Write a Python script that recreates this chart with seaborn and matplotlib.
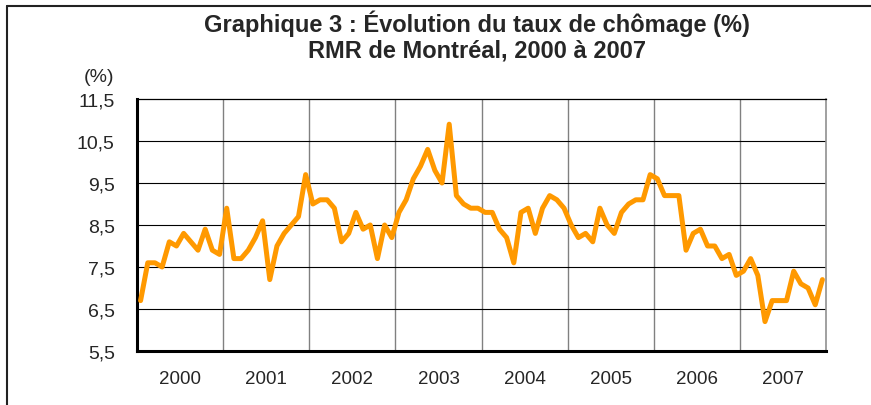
import numpy as np
import pandas as pd
import matplotlib
matplotlib.use("Agg")
import matplotlib.pyplot as plt
import seaborn as sns
from matplotlib.lines import Line2D

# monthly unemployment rate, Montreal CMA, Jan 2000 - Dec 2007
years = ["2000", "2001", "2002", "2003", "2004", "2005", "2006", "2007"]
rate_2000 = [6.7, 7.6, 7.6, 7.5, 8.1, 8.0, 8.3, 8.1, 7.9, 8.4, 7.9, 7.8]
rate_2001 = [8.9, 7.7, 7.7, 7.9, 8.2, 8.6, 7.2, 8.0, 8.3, 8.5, 8.7, 9.7]
rate_2002 = [9.0, 9.1, 9.1, 8.9, 8.1, 8.3, 8.8, 8.4, 8.5, 7.7, 8.5, 8.2]
rate_2003 = [8.8, 9.1, 9.6, 9.9, 10.3, 9.8, 9.5, 10.9, 9.2, 9.0, 8.9, 8.9]
rate_2004 = [8.8, 8.8, 8.4, 8.2, 7.6, 8.8, 8.9, 8.3, 8.9, 9.2, 9.1, 8.9]
rate_2005 = [8.5, 8.2, 8.3, 8.1, 8.9, 8.5, 8.3, 8.8, 9.0, 9.1, 9.1, 9.7]
rate_2006 = [9.6, 9.2, 9.2, 9.2, 7.9, 8.3, 8.4, 8.0, 8.0, 7.7, 7.8, 7.3]
rate_2007 = [7.4, 7.7, 7.3, 6.2, 6.7, 6.7, 6.7, 7.4, 7.1, 7.0, 6.6, 7.2]
y_ticks = [5.5, 6.5, 7.5, 8.5, 9.5, 10.5, 11.5]

rates = (rate_2000 + rate_2001 + rate_2002 + rate_2003
         + rate_2004 + rate_2005 + rate_2006 + rate_2007)
df = pd.DataFrame({"mois": np.arange(len(rates)), "taux": rates})

sns.set_style("white")
plt.rcParams["font.family"] = ["Liberation Sans", "DejaVu Sans"]

W, H = 871, 406
fig = plt.figure(figsize=(W / 100, H / 100), dpi=100)
ax = fig.add_axes([137 / W, 1 - 352 / H, (826 - 137) / W, (352 - 100) / H])

sns.lineplot(data=df, x="mois", y="taux", ax=ax, color="#FF9900",
             linewidth=3.6, zorder=3)

n = len(rates)
ax.set_xlim(-0.5, n - 0.5)
ax.set_ylim(5.5, 11.5)

# year boundaries as major ticks, year names centred as minor ticks
bounds = np.arange(-0.5, n, 12)
ax.set_xticks(bounds)
ax.set_xticklabels([])
ax.set_xticks(np.arange(5.5, n, 12), minor=True)
ax.set_xticklabels(years, minor=True, fontsize=13.5)
ax.tick_params(axis="x", which="major", direction="inout", length=8,
               width=1.5, color="black")
ax.tick_params(axis="x", which="minor", length=0, pad=14)

ax.set_yticks(y_ticks)
ax.set_yticklabels([f"{v:.1f}".replace(".", ",") for v in y_ticks],
                   fontsize=14)
ax.tick_params(axis="y", direction="inout", length=14, width=1.5,
               color="black", pad=9)

ax.set_xlabel("")
ax.set_ylabel("")

for x in bounds[1:-1]:
    ax.axvline(x, color="#808080", linewidth=1, zorder=1)
for y in y_ticks[1:-1]:
    ax.axhline(y, color="black", linewidth=0.8, zorder=1)

ax.spines["left"].set_linewidth(2.2)
ax.spines["bottom"].set_linewidth(2.2)
ax.spines["left"].set_color("black")
ax.spines["bottom"].set_color("black")
ax.spines["top"].set_linewidth(0.9)
ax.spines["top"].set_color("black")
ax.spines["right"].set_linewidth(1.2)
ax.spines["right"].set_color("#909090")

fig.text(477 / W, 1 - 24 / H, "Graphique 3 : Évolution du taux de chômage (%)",
         ha="center", va="center", fontsize=17, fontweight="bold")
fig.text(477 / W, 1 - 51 / H, "RMR de Montréal, 2000 à 2007",
         ha="center", va="center", fontsize=17, fontweight="bold")
fig.text(99 / W, 1 - 77 / H, "(%)", ha="center", va="center", fontsize=14)

# frame lines around the picture (top and left only visible)
fig.add_artist(Line2D([7 / W, 1], [1 - 7 / H, 1 - 7 / H], color="#222222",
                      linewidth=1.5, transform=fig.transFigure))
fig.add_artist(Line2D([7 / W, 7 / W], [0, 1 - 7 / H], color="#222222",
                      linewidth=1.5, transform=fig.transFigure))

fig.savefig("out.png", dpi=100)
